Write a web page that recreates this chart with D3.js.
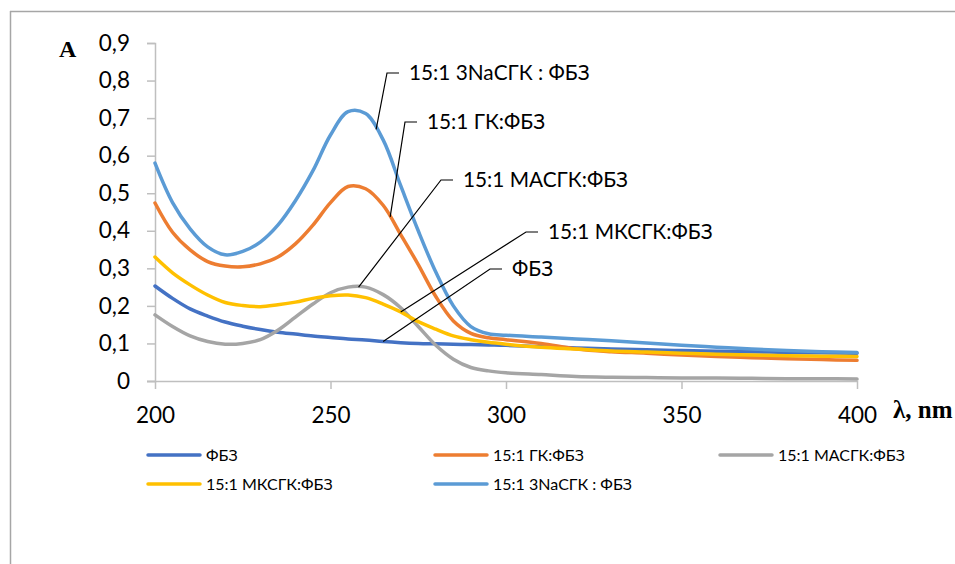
<!DOCTYPE html>
<html><head><meta charset="utf-8">
<script src="https://cdn.jsdelivr.net/npm/d3@7"></script>
<style>
html,body{margin:0;padding:0;background:#fff;}
svg{display:block;}
</style>
</head><body>
<svg id="chart" width="955" height="564"></svg>
<script>
const wavelengths = [200,205,210,215,220,225,230,235,240,245,250,255,260,265,270,275,280,285,290,295,300,310,320,330,340,350,360,370,380,390,400];
const seriesNames = ["ФБЗ","15:1 ГК:ФБЗ","15:1 МАСГК:ФБЗ","15:1 МКСГК:ФБЗ","15:1 3NaСГК : ФБЗ"];
const seriesColors = ["#4472C4","#ED7D31","#A5A5A5","#FFC000","#5B9BD5"];
const fbz     = [.253,.22,.192,.173,.157,.146,.137,.13,.125,.12,.116,.112,.109,.105,.102,.10,.099,.098,.097,.096,.095,.091,.088,.085,.083,.081,.079,.078,.076,.075,.074];
const gk      = [.474,.396,.349,.318,.306,.304,.312,.33,.365,.415,.475,.518,.512,.468,.39,.31,.225,.16,.127,.115,.11,.10,.085,.078,.074,.069,.065,.062,.059,.057,.055];
const masgk   = [.176,.145,.12,.105,.098,.10,.11,.135,.17,.205,.235,.25,.25,.23,.195,.145,.095,.058,.036,.027,.022,.017,.012,.01,.009,.008,.008,.007,.006,.006,.005];
const mksgk   = [.33,.288,.256,.229,.209,.201,.198,.203,.21,.22,.227,.229,.222,.205,.184,.158,.138,.12,.11,.103,.098,.09,.085,.08,.077,.074,.071,.069,.067,.066,.065];
const nasgk   = [.58,.475,.405,.357,.336,.345,.37,.415,.48,.56,.655,.717,.712,.642,.52,.40,.29,.20,.145,.126,.122,.117,.112,.107,.101,.095,.09,.085,.081,.078,.076];
const seriesValues = [fbz, gk, masgk, mksgk, nasgk];
const xTicks = [200,250,300,350,400];
const yTicks = [0,0.1,0.2,0.3,0.4,0.5,0.6,0.7,0.8,0.9];
// annotation: which series, and the wavelength where its leader line touches the curve
const annoSeries = [4,1,2,3,0];
const annoAnchorNm = [263,267,258,270,265];

const svg = d3.select("#chart");
const sansFont = "Lato, 'Open Sans', sans-serif";
const serifFont = "'Liberation Serif','DejaVu Serif',serif";

// frame
svg.append("line").attr("x1",10).attr("x2",955).attr("y1",11.5).attr("y2",11.5).attr("stroke","#a6a6a6").attr("stroke-width",1.5);
svg.append("line").attr("x1",10.5).attr("x2",10.5).attr("y1",11).attr("y2",564).attr("stroke","#a6a6a6").attr("stroke-width",1.5);

const x = d3.scaleLinear().domain([200,400]).range([155,857]);
const y = d3.scaleLinear().domain([0,0.9]).range([381,43]);

const fmt = d => d3.format(".1f")(d).replace(".",",");
const yAxis = d3.axisLeft(y).tickValues(yTicks).tickSize(8).tickPadding(17).tickFormat(d => d===0 ? "0" : fmt(d));
const gy = svg.append("g").attr("transform","translate(155,0)").call(yAxis);
const xAxis = d3.axisBottom(x).tickValues(xTicks).tickSize(8).tickPadding(18).tickFormat(d3.format("d"));
const gx = svg.append("g").attr("transform","translate(0,381)").call(xAxis);
[gx,gy].forEach(g=>{
  g.select(".domain").attr("stroke","#bfbfbf").attr("stroke-width",1.5);
  g.selectAll(".tick line").attr("stroke","#bfbfbf").attr("stroke-width",1.5);
  g.selectAll("text").attr("font-family",sansFont).attr("font-size",22.5).attr("fill","#000");
});
gx.select(".domain").attr("d","M147,0.5H857");

const line = d3.line().x((d,i)=>x(wavelengths[i])).y(d=>y(d)).curve(d3.curveCatmullRom.alpha(0.5));
seriesValues.forEach((vals,i)=>{
  svg.append("path").datum(vals).attr("d",line).attr("fill","none")
    .attr("stroke",seriesColors[i]).attr("stroke-width",3.5).attr("stroke-linejoin","round").attr("stroke-linecap","round");
});

// annotations with leader lines
const labelPos = [[409,73],[427,122],[463,180],[548,232],[512,269]];
annoSeries.forEach((si,k)=>{
  const nm = annoAnchorNm[k];
  const vals = seriesValues[si];
  let j = d3.bisectRight(wavelengths, nm) - 1;
  j = Math.max(0, Math.min(j, wavelengths.length-2));
  const t = (nm - wavelengths[j])/(wavelengths[j+1]-wavelengths[j]);
  const v = vals[j] + t*(vals[j+1]-vals[j]);
  const ax = x(nm), ay = y(v);
  const [lx,ly] = labelPos[k];
  svg.append("polyline").attr("points",`${ax},${ay} ${lx-22},${ly} ${lx-10},${ly}`)
    .attr("fill","none").attr("stroke","#000").attr("stroke-width",1.2);
  svg.append("text").attr("x",lx).attr("y",ly).attr("dy","0.35em")
    .attr("font-family",sansFont).attr("font-size",20.8).attr("fill","#000").text(seriesNames[si]);
});

// axis titles
svg.append("text").attr("x",59).attr("y",57).attr("font-family",serifFont).attr("font-weight","bold").attr("font-size",24).text("A");
svg.append("text").attr("x",893).attr("y",418).attr("font-family",serifFont).attr("font-weight","bold").attr("font-size",25).text("λ, nm");

// legend
const legendPos = [[148,455],[435,455],[720,455],[148,484],[435,484]];
seriesNames.forEach((n,i)=>{
  const [lx,ly] = legendPos[i];
  svg.append("line").attr("x1",lx).attr("x2",lx+52).attr("y1",ly).attr("y2",ly)
    .attr("stroke",seriesColors[i]).attr("stroke-width",3.5).attr("stroke-linecap","round");
  svg.append("text").attr("x",lx+58).attr("y",ly).attr("dy","0.35em")
    .attr("font-family",sansFont).attr("font-size",16).attr("fill","#000").text(n);
});
</script>
</body></html>
